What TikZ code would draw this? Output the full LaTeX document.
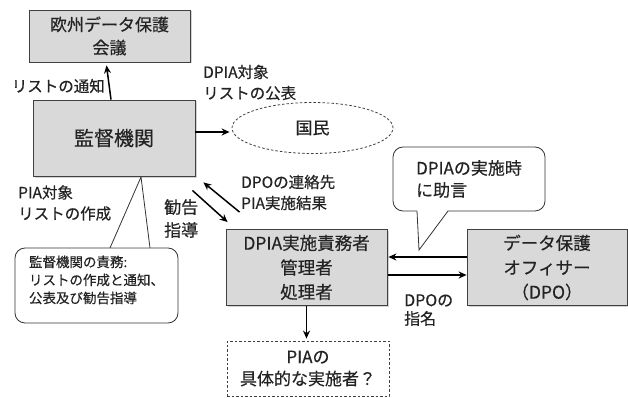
\documentclass[tikz,border=0pt]{standalone}
\usepackage{fontspec}
\setmainfont{Noto Sans CJK JP}[FakeBold=0.4]
\usetikzlibrary{arrows.meta,shapes.geometric,shadows,calc}
\definecolor{boxgray}{RGB}{217,217,217}
\definecolor{ink}{RGB}{35,35,35}
\begin{document}
\begin{tikzpicture}[x=1pt,y=-1pt,
  box/.style={draw=black!75, line width=0.8pt, fill=boxgray, align=center, inner sep=0pt,
    text=ink, drop shadow={shadow xshift=1.5pt,shadow yshift=-1.5pt,opacity=0.35}},
  arr/.style={-{Stealth[length=8pt,width=7pt]}, line width=1.5pt},
  lbl/.style={align=left, inner sep=0pt, text=ink, font=\fontsize{15.5}{21}\selectfont},
  callout/.style={draw=black!80, line width=0.8pt, fill=white, rounded corners=10pt, inner sep=0pt},
]
\useasboundingbox (0,0) rectangle (628,398);

% boxes
\node[box, minimum width=161pt, minimum height=52pt, font=\fontsize{17}{23}\selectfont] (edpb) at (109.5,36) {欧州データ保護\\会議};
\node[box, minimum width=162pt, minimum height=76pt, font=\fontsize{20}{24}\selectfont] (sa) at (114,138) {監督機関};
\node[ellipse, draw=black!75, dash pattern=on 2.5pt off 2pt, line width=0.8pt, minimum width=161pt, minimum height=51pt, inner sep=0pt, text=ink, font=\fontsize{17}{20}\selectfont] (pub) at (312.5,128) {国民};
\node[box, minimum width=161pt, minimum height=76pt, font=\fontsize{17.5}{24.5}\selectfont] (dpia) at (306.5,267.5) {DPIA実施責務者\\管理者\\処理者};
\node[box, minimum width=160pt, minimum height=76pt, font=\fontsize{17.5}{24.5}\selectfont] (dpo) at (547,267.5) {データ保護\\オフィサー\\（DPO）};
\node[draw=black!75, dash pattern=on 2.5pt off 2pt, line width=0.8pt, minimum width=162pt, minimum height=55pt, inner sep=0pt, align=center, text=ink, font=\fontsize{17}{22}\selectfont] (who) at (308,368.5) {PIAの\\具体的な実施者？};

% arrows
\draw[arr] ([xshift=-3pt]sa.north) -- ([xshift=-3pt,yshift=-3pt]edpb.south);
\draw[arr] ([yshift=6pt]sa.east) -- ([xshift=-2pt,yshift=6pt]sa.east -| pub.west);
\draw[arr] ($(dpia.north west)+(14,-17)$) -- ($(sa.south east)+(8,6)$);
\draw[arr] ($(sa.south east)+(-3,14)$) -- ($(dpia.north west)+(2,-7)$);
\draw[arr] ([yshift=10.5pt]dpo.west) -- ([yshift=10.5pt,xshift=1pt]dpo.west -| dpia.east);
\draw[arr] ([yshift=-7.5pt,xshift=1pt]dpo.west -| dpia.east) -- ([yshift=-7.5pt]dpo.west);
\draw[arr, shorten >=2pt] (dpia.south) -- (dpia.south |- who.north);

% labels
\node[lbl, anchor=east] (l1) at (105,86) {リストの通知};
\node[lbl, anchor=west] (l2) at (203,82.5) {DPIA対象\\リストの公表};
\node[lbl, anchor=west] (l3) at (18,203) {PIA対象\\リストの作成};
\node[lbl, anchor=west, font=\fontsize{17}{23}\selectfont] (l4) at (164,218.5) {勧告\\指導};
\node[lbl, anchor=west] (l5) at (241,192.5) {DPOの連絡先\\PIA実施結果};
\node[lbl, anchor=west, font=\fontsize{16}{18.5}\selectfont] (l6) at (404,310) {DPOの\\指名};

% callout 1
\node[callout, minimum width=163pt, minimum height=75pt] (c1) at (96.5,285.5) {};
\coordinate (t1) at (141,177);
\fill[white] (110,247) -- (t1) -- (150,247) -- cycle;
\draw[draw=black!80, line width=0.8pt, line join=miter] (110,248) -- (t1) -- (150,248);
\node[align=left, inner sep=0pt, text=ink, font=\fontsize{13.5}{18}\selectfont] (c1t) at (96.5,280) {監督機関の責務:\\リストの作成と通知、\\公表及び勧告指導};

% callout 2
\node[callout, minimum width=152pt, minimum height=64pt, align=left, text=ink, font=\fontsize{17}{22}\selectfont] (c2) at (469,179) {DPIAの実施時\\に助言};
\coordinate (t2) at (419,250);
\fill[white] (417,210) -- (t2) -- (448,210) -- cycle;
\draw[draw=black!80, line width=0.8pt, line join=miter] (417,211) -- (t2) -- (448,211);
\end{tikzpicture}
\end{document}
